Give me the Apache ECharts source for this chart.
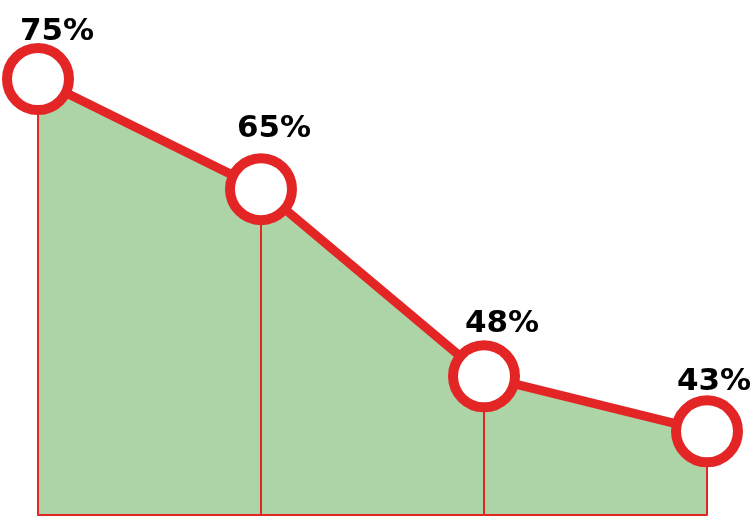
<!DOCTYPE html>
<html>
<head>
<meta charset="utf-8">
<script src="https://cdn.jsdelivr.net/npm/echarts@6/dist/echarts.min.js"></script>
<style>html,body{margin:0;padding:0;background:#fff}#c{width:756px;height:529px}</style>
</head>
<body>
<div id="c"></div>
<script>
const categories = ['A', 'B', 'C', 'D'];
const values = [75, 65, 48, 43];
const labelOffsets = [[19, 8], [13, -5], [18, 3], [7, 6]];

const RED = '#e42526';
const GREEN = '#acd4a6';
const yMin = 35.4;

const chart = echarts.init(document.getElementById('c'));
chart.setOption({
  animation: false,
  grid: { left: 38, right: 49, top: 24, bottom: 14 },
  xAxis: {
    type: 'category', data: categories, boundaryGap: false, z: 4,
    axisLine: { show: true, lineStyle: { color: RED, width: 2 } },
    axisTick: { show: false }, axisLabel: { show: false }, splitLine: { show: false }
  },
  yAxis: {
    type: 'value', min: yMin, max: 80, show: false, splitLine: { show: false }
  },
  series: [
    {
      type: 'line', data: values, z: 1, symbol: 'none', silent: true,
      lineStyle: { width: 0, opacity: 0 },
      areaStyle: { color: GREEN, opacity: 1, origin: 'start' }
    },
    {
      type: 'line', data: values, z: 2, symbol: 'none', silent: true,
      lineStyle: { width: 0, opacity: 0 },
      markLine: {
        silent: true, symbol: 'none', label: { show: false }, z: 2,
        lineStyle: { color: RED, width: 2, type: 'solid' },
        data: values.map((v, i) => [{ coord: [i, v] }, { coord: [i, yMin] }])
      }
    },
    {
      type: 'line', z: 6,
      data: values.map((v, i) => ({ value: v, label: { offset: labelOffsets[i] } })),
      symbol: 'circle', symbolSize: 62, showSymbol: true,
      lineStyle: { color: RED, width: 9 },
      itemStyle: { color: '#fff', borderColor: RED, borderWidth: 10 },
      label: {
        show: true, position: 'top', distance: 4,
        formatter: '{c}%', color: '#000',
        fontFamily: 'DejaVu Sans', fontWeight: 'bold', fontSize: 31
      }
    }
  ]
});
</script>
</body>
</html>
